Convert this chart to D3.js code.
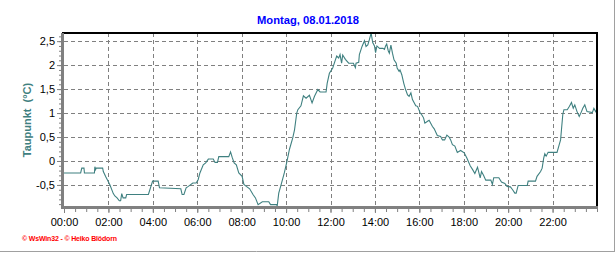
<!DOCTYPE html>
<html>
<head>
<meta charset="utf-8">
<script src="https://cdn.jsdelivr.net/npm/d3@7"></script>
<style>
  body { margin: 0; background: #fff; }
  svg { display: block; font-family: 'Liberation Sans', Arial, sans-serif; }
</style>
</head>
<body>
<script>
// hours of the day and dew point readings (°C)
var hours = [0.0, 0.75, 0.8, 0.9, 0.92, 1.37, 1.39, 1.42, 1.45, 1.74, 1.77, 1.88, 1.98, 2.07, 2.22, 2.29, 2.39, 2.49, 2.55, 2.6,
  2.66, 2.78, 2.82, 3.8, 3.99, 4.24, 4.3, 5.26, 5.32, 5.4, 5.5, 5.6, 5.8, 5.95, 6.04, 6.12, 6.27, 6.38, 6.5, 6.72,
  6.8, 6.91, 6.97, 7.42, 7.5, 7.57, 7.66, 7.76, 7.87, 8.02, 8.1, 8.21, 8.36, 8.51, 8.62, 8.74, 8.93, 9.22, 9.3, 9.57,
  9.6, 9.67, 9.78, 9.92, 10.03, 10.15, 10.3, 10.38, 10.48, 10.53, 10.67, 10.78, 10.9, 11.05, 11.17, 11.28, 11.43, 11.53, 11.8, 11.85,
  11.95, 12.1, 12.22, 12.28, 12.37, 12.43, 12.5, 12.55, 12.67, 12.82, 13.03, 13.12, 13.15, 13.27, 13.3, 13.42, 13.53, 13.6, 13.68, 13.75,
  13.83, 13.9, 13.98, 14.03, 14.09, 14.21, 14.36, 14.43, 14.48, 14.53, 14.6, 14.65, 14.72, 14.79, 14.86, 14.96, 15.0, 15.09, 15.13, 15.21,
  15.3, 15.38, 15.47, 15.54, 15.62, 15.69, 15.84, 15.92, 16.04, 16.1, 16.19, 16.25, 16.37, 16.44, 16.59, 16.67, 16.81, 16.96, 17.04, 17.14,
  17.24, 17.34, 17.41, 17.49, 17.6, 17.71, 17.86, 18.02, 18.14, 18.29, 18.4, 18.5, 18.62, 18.74, 18.8, 18.89, 18.99, 19.22, 19.29, 19.35,
  19.58, 19.7, 19.85, 19.95, 20.1, 20.2, 20.3, 20.36, 20.45, 20.86, 20.9, 21.23, 21.3, 21.46, 21.53, 21.6, 21.65, 21.71, 21.8, 22.2,
  22.28, 22.36, 22.4, 22.46, 22.51, 22.66, 22.76, 22.85, 22.93, 23.0, 23.1, 23.2, 23.3, 23.36, 23.45, 23.55, 23.79, 23.86, 23.94, 24.0];
var dewPoint = [-0.25, -0.25, -0.15, -0.15, -0.25, -0.25, -0.12, -0.18, -0.15, -0.15, -0.22, -0.33, -0.42, -0.5, -0.68, -0.73, -0.77, -0.83, -0.83, -0.68,
  -0.77, -0.77, -0.7, -0.7, -0.42, -0.42, -0.56, -0.58, -0.7, -0.7, -0.56, -0.53, -0.46, -0.46, -0.39, -0.25, -0.08, -0.04, 0.04, 0.04,
  -0.03, -0.03, 0.09, 0.09, 0.19, 0.08, -0.04, -0.08, -0.25, -0.32, -0.49, -0.53, -0.58, -0.7, -0.77, -0.91, -0.85, -0.85, -0.91, -0.91,
  -0.94, -0.67, -0.49, -0.25, -0.03, 0.24, 0.48, 0.65, 1.0, 1.07, 1.15, 1.36, 1.31, 1.37, 1.21, 1.35, 1.49, 1.44, 1.44, 1.62,
  1.83, 1.94, 2.11, 2.19, 2.15, 2.22, 2.04, 2.21, 2.12, 2.04, 2.04, 1.95, 2.04, 2.06, 2.22, 2.39, 2.51, 2.39, 2.42, 2.53,
  2.67, 2.47, 2.4, 2.26, 2.4, 2.35, 2.35, 2.33, 2.4, 2.44, 2.3, 2.25, 2.42, 2.25, 2.11, 2.04, 1.94, 1.87, 1.9, 1.8,
  1.62, 1.49, 1.38, 1.35, 1.42, 1.28, 1.15, 1.14, 1.0, 0.97, 0.9, 0.79, 0.83, 0.85, 0.72, 0.67, 0.53, 0.51, 0.44, 0.44,
  0.54, 0.5, 0.44, 0.34, 0.31, 0.18, 0.22, 0.17, 0.06, -0.1, -0.18, -0.26, -0.13, -0.35, -0.22, -0.3, -0.4, -0.4, -0.49, -0.35,
  -0.35, -0.44, -0.47, -0.53, -0.54, -0.6, -0.67, -0.67, -0.51, -0.51, -0.42, -0.42, -0.32, -0.22, -0.15, 0.06, 0.15, 0.1, 0.18, 0.18,
  0.31, 0.44, 0.65, 0.97, 1.07, 1.07, 1.14, 1.22, 1.1, 1.17, 1.03, 0.93, 1.03, 1.1, 1.17, 1.03, 1.01, 1.1, 1.03, 1.07];

var xTicks = [0, 2, 4, 6, 8, 10, 12, 14, 16, 18, 20, 22];
var xTickLabels = ['00:00', '02:00', '04:00', '06:00', '08:00', '10:00', '12:00', '14:00', '16:00', '18:00', '20:00', '22:00'];
var yTicks = [-0.5, 0, 0.5, 1, 1.5, 2, 2.5];
var yTickLabels = ['-0,5', '0', '0,5', '1', '1,5', '2', '2,5'];

var data = hours.map(function (h, i) { return { h: h, v: dewPoint[i] }; });

var W = 616, H = 253;
var pLeft = 64, pRight = 597, pTop = 33, pBottom = 207;
var teal = '#3f8080';

var svg = d3.select('body').append('svg').attr('width', W).attr('height', H);

var x = d3.scaleLinear().domain([0, 24]).range([pLeft, pRight]);
var y = d3.scaleLinear().domain([-0.96, 2.67]).range([pBottom, pTop]);

// outer frame shadow (right + bottom)
svg.append('line').attr('x1', 614.5).attr('x2', 614.5).attr('y1', 0).attr('y2', 252)
  .attr('stroke', '#a0a0a0').attr('stroke-width', 1);
svg.append('line').attr('x1', 0).attr('x2', 615).attr('y1', 251.5).attr('y2', 251.5)
  .attr('stroke', '#a0a0a0').attr('stroke-width', 1);

// title
svg.append('text')
  .attr('x', 308).attr('y', 24)
  .attr('text-anchor', 'middle')
  .attr('font-size', '11.2px').attr('font-weight', 'bold')
  .attr('fill', '#0000ff')
  .text('Montag, 08.01.2018');

// grid
var grid = svg.append('g').attr('stroke', '#808080').attr('stroke-dasharray', '4,3').attr('stroke-width', 1);
grid.selectAll('.hg').data(yTicks).enter().append('line')
  .attr('x1', pLeft).attr('x2', pRight)
  .attr('y1', function (d) { return Math.round(y(d)) + 0.5; })
  .attr('y2', function (d) { return Math.round(y(d)) + 0.5; });
grid.selectAll('.vg').data(xTicks.slice(1)).enter().append('line')
  .attr('y1', pTop).attr('y2', pBottom)
  .attr('x1', function (d) { return Math.round(x(d)) + 0.5; })
  .attr('x2', function (d) { return Math.round(x(d)) + 0.5; });

// line
svg.append('clipPath').attr('id', 'clip').append('rect')
  .attr('x', pLeft).attr('y', pTop).attr('width', pRight - pLeft).attr('height', pBottom - pTop);
var line = d3.line().x(function (d) { return x(d.h); }).y(function (d) { return y(d.v); });
svg.append('path').datum(data)
  .attr('clip-path', 'url(#clip)')
  .attr('fill', 'none').attr('stroke', teal).attr('stroke-width', 1.1)
  .attr('d', line);

// top and right black border
svg.append('line').attr('x1', pLeft - 2).attr('x2', pRight + 1).attr('y1', pTop).attr('y2', pTop)
  .attr('stroke', '#000').attr('stroke-width', 2);
svg.append('line').attr('x1', pRight).attr('x2', pRight).attr('y1', pTop - 1).attr('y2', pBottom)
  .attr('stroke', '#000').attr('stroke-width', 2);

// minor ticks
var minorX = d3.range(0, 24.01, 0.5);
var minorY = d3.range(-0.9, 2.61, 0.1);
svg.append('g').attr('transform', 'translate(0,' + (pBottom + 1) + ')')
  .call(d3.axisBottom(x).tickValues(minorX).tickSize(4).tickFormat(''))
  .call(function (g) { g.select('.domain').remove(); g.selectAll('line').attr('stroke', '#808080'); });
svg.append('g').attr('transform', 'translate(' + (pLeft - 2) + ',0)')
  .call(d3.axisLeft(y).tickValues(minorY).tickSize(3).tickFormat(''))
  .call(function (g) { g.select('.domain').remove(); g.selectAll('line').attr('stroke', '#808080'); });

// axes
svg.append('g').attr('transform', 'translate(0,' + (pBottom + 1) + ')')
  .call(d3.axisBottom(x).tickValues(xTicks).tickSize(5).tickPadding(5)
    .tickFormat(function (d, i) { return xTickLabels[i]; }))
  .call(function (g) {
    g.select('.domain').remove();
    g.selectAll('line').attr('stroke', '#808080');
    g.selectAll('text').attr('font-size', '11px').attr('fill', '#000')
      .attr('font-family', 'Liberation Sans, Arial, sans-serif');
  });
svg.append('g').attr('transform', 'translate(' + (pLeft - 2) + ',0)')
  .call(d3.axisLeft(y).tickValues(yTicks).tickSize(5).tickPadding(2)
    .tickFormat(function (d, i) { return yTickLabels[i]; }))
  .call(function (g) {
    g.select('.domain').remove();
    g.selectAll('line').attr('stroke', '#808080');
    g.selectAll('text').attr('font-size', '11px').attr('fill', '#000')
      .attr('font-family', 'Liberation Sans, Arial, sans-serif');
  });

// gray left and bottom axis lines
svg.append('line').attr('x1', pLeft - 1.5).attr('x2', pLeft - 1.5).attr('y1', pTop).attr('y2', pBottom + 2)
  .attr('stroke', '#808080').attr('stroke-width', 3);
svg.append('line').attr('x1', pLeft - 3).attr('x2', pRight + 1).attr('y1', pBottom + 0.5).attr('y2', pBottom + 0.5)
  .attr('stroke', '#808080').attr('stroke-width', 3);

// y axis title
svg.append('text')
  .attr('transform', 'translate(31,120) rotate(-90)')
  .attr('text-anchor', 'middle')
  .attr('font-size', '11px').attr('font-weight', 'bold')
  .attr('fill', teal)
  .attr('xml:space', 'preserve')
  .text('Taupunkt  (°C)');

// footer
svg.append('text')
  .attr('x', 22).attr('y', 241)
  .attr('font-size', '7px').attr('font-weight', 'bold')
  .attr('fill', '#ff0000')
  .attr('textLength', 95)
  .text('© WsWin32 - © Heiko Blödorn');
</script>
</body>
</html>
